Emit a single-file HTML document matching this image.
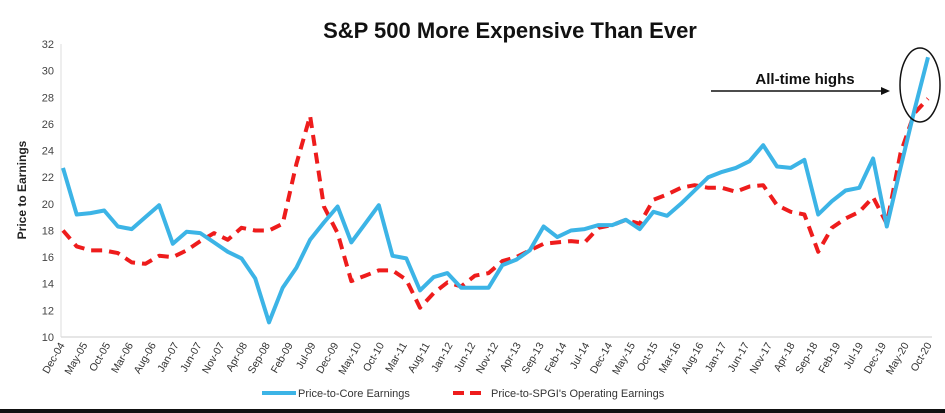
<!DOCTYPE html>
<html><head><meta charset="utf-8"><style>
html,body{margin:0;padding:0;background:#fff;}
svg{display:block;font-family:"Liberation Sans",Arial,sans-serif;}
</style></head><body>
<svg id="chart" width="945" height="413" viewBox="0 0 945 413">
<text x="510" y="38" text-anchor="middle" font-size="22" font-weight="bold" fill="#111">S&amp;P 500 More Expensive Than Ever</text>
<text transform="translate(26,190) rotate(-90)" text-anchor="middle" font-size="12" font-weight="bold" fill="#222">Price to Earnings</text>
<g id="yticks"></g><g id="xticks"></g>
<line x1="61" y1="44" x2="61" y2="337" stroke="#ddd" stroke-width="1"/>
<line x1="61" y1="337" x2="932" y2="337" stroke="#ddd" stroke-width="1.5"/>
<polyline id="redline" fill="none" stroke="#ee1c1c" stroke-width="4" stroke-dasharray="11,7" stroke-linejoin="round"/>
<polyline id="blueline" fill="none" stroke="#3cb4e6" stroke-width="4" stroke-linejoin="round"/>
<text x="805" y="84" text-anchor="middle" font-size="15" font-weight="bold" fill="#111">All-time highs</text>
<line x1="711" y1="91" x2="882" y2="91" stroke="#111" stroke-width="1.5"/>
<polygon points="890,91 881,87 881,95" fill="#111"/>
<ellipse cx="920" cy="85" rx="20" ry="37" fill="none" stroke="#111" stroke-width="1.5"/>
<line x1="262" y1="393" x2="296" y2="393" stroke="#3cb4e6" stroke-width="4"/>
<text x="298" y="397" font-size="11" fill="#333">Price-to-Core Earnings</text>
<line x1="453" y1="393" x2="483" y2="393" stroke="#ee1c1c" stroke-width="4" stroke-dasharray="11,6"/>
<text x="491" y="397" font-size="11" fill="#333">Price-to-SPGI's Operating Earnings</text>
<rect x="0" y="409" width="945" height="4" fill="#111"/>
</svg>
<script>
const yTicks=[10,12,14,16,18,20,22,24,26,28,30,32];
const xLabels=["Dec-04","May-05","Oct-05","Mar-06","Aug-06","Jan-07","Jun-07","Nov-07","Apr-08","Sep-08","Feb-09","Jul-09","Dec-09","May-10","Oct-10","Mar-11","Aug-11","Jan-12","Jun-12","Nov-12","Apr-13","Sep-13","Feb-14","Jul-14","Dec-14","May-15","Oct-15","Mar-16","Aug-16","Jan-17","Jun-17","Nov-17","Apr-18","Sep-18","Feb-19","Jul-19","Dec-19","May-20","Oct-20"];
const coreValues=[22.7,19.2,19.3,19.5,18.3,18.1,19.0,19.9,17.0,17.9,17.8,17.1,16.4,15.9,14.4,11.1,13.7,15.2,17.3,18.6,19.8,17.1,18.5,19.9,16.1,15.9,13.5,14.5,14.8,13.7,13.7,13.7,15.4,15.8,16.5,18.3,17.5,18.0,18.1,18.4,18.4,18.8,18.1,19.4,19.1,20.0,21.0,22.0,22.4,22.7,23.2,24.4,22.8,22.7,23.3,19.2,20.2,21.0,21.2,23.4,18.3,22.7,27.0,31.0];
const spgiValues=[18.0,16.8,16.5,16.5,16.3,15.6,15.5,16.1,16.0,16.5,17.2,17.8,17.3,18.2,18.0,18.0,18.5,23.0,26.6,19.8,17.8,14.2,14.6,15.0,15.0,14.3,12.2,13.3,14.1,13.8,14.6,14.8,15.7,16.0,16.5,17.0,17.1,17.2,17.1,18.2,18.4,18.8,18.5,20.3,20.7,21.2,21.4,21.2,21.2,20.9,21.3,21.4,19.9,19.4,19.2,16.4,18.2,18.9,19.4,20.5,18.5,23.8,26.8,27.9];
const X0=63,X1=928,Y0=337,Y1=44;
function yScale(v){return Y0-(v-10)/(32-10)*(Y0-Y1);}
function xScale(i,n){return X0+i*(X1-X0)/(n-1);}
const NS="http://www.w3.org/2000/svg";
const yg=document.getElementById('yticks');
yTicks.forEach(t=>{const e=document.createElementNS(NS,'text');
e.setAttribute('x',54);e.setAttribute('y',yScale(t)+4);e.setAttribute('text-anchor','end');
e.setAttribute('font-size','11');e.setAttribute('fill','#444');e.textContent=t;


yg.appendChild(e);});
const xg=document.getElementById('xticks');
xLabels.forEach((l,i)=>{const x=X0-1+i*(X1+2-X0)/(xLabels.length-1);const e=document.createElementNS(NS,'text');
e.setAttribute('transform','translate('+(x+3)+',345) rotate(-60)');e.setAttribute('text-anchor','end');
e.setAttribute('font-size','10.5');e.setAttribute('fill','#333');e.textContent=l;


xg.appendChild(e);});
function pts(arr){return arr.map((v,i)=>xScale(i,arr.length).toFixed(1)+','+yScale(v).toFixed(1)).join(' ');}
document.getElementById('blueline').setAttribute('points',pts(coreValues));
document.getElementById('redline').setAttribute('points',pts(spgiValues));
</script>
</body></html>
